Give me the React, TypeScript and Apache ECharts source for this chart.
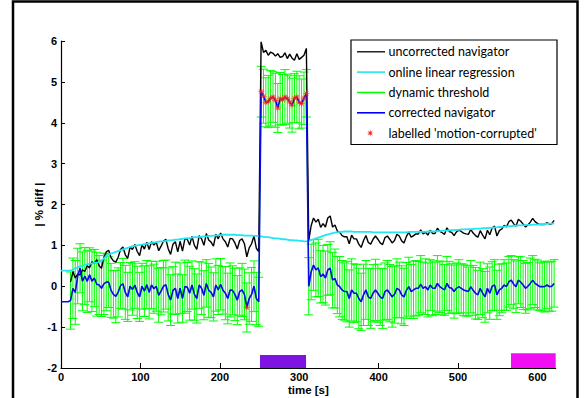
import React, { useEffect, useRef } from "react";
import * as echarts from "echarts";

// sample times (s), one sample every 3 s from 0 to 621
const sampleTimes: number[] = Array.from({ length: 208 }, (_, i) => i * 3);

// corrected navigator (blue)
const corrected: number[] = [
  -0.38, -0.38, -0.38, -0.38, -0.35, -0.05, -0.15, 0.25, 0.44, 0.12,
  0.25, 0.12, 0.28, 0.12, 0.2, 0.05, 0.03, -0.05, 0.06, 0.1,
  0.1, -0.1, -0.2, -0.25, -0.15, 0.02, 0.06, -0.15, -0.26, 0.0,
  -0.08, 0.03, -0.15, -0.26, 0.0, -0.12, 0.04, -0.15, 0.03, -0.06,
  0.0, -0.22, -0.12, 0.0, 0.04, -0.2, -0.34, -0.1, -0.05, -0.3,
  -0.05, -0.3, -0.01, -0.02, -0.17, 0.03, -0.2, -0.3, 0.03, -0.05,
  -0.22, 0.07, -0.1, -0.15, -0.26, 0.03, -0.09, 0.05, -0.1, -0.17,
  -0.3, -0.09, -0.1, -0.2, -0.34, -0.13, -0.09, -0.2, -0.52, -0.3,
  -0.2, 0.0, -0.3, -0.38, 4.76, 4.65, 4.5, 4.52, 4.6, 4.63,
  4.55, 4.36, 4.59, 4.56, 4.63, 4.59, 4.51, 4.43, 4.6, 4.63,
  4.5, 4.47, 4.6, 4.72, 0.0, 0.35, 0.52, 0.4, 0.45, 0.23,
  0.3, 0.2, 0.4, 0.44, 0.15, 0.19, 0.03, -0.01, -0.09, -0.13,
  -0.13, -0.3, -0.09, -0.17, -0.17, -0.3, -0.38, -0.21, -0.09, -0.26,
  -0.3, -0.17, -0.09, -0.17, -0.26, -0.3, -0.13, -0.09, -0.17, -0.26,
  -0.2, -0.05, -0.09, -0.21, -0.26, -0.1, -0.01, -0.13, -0.09, -0.05,
  -0.05, 0.05, -0.05, -0.01, -0.09, 0.03, -0.05, -0.05, 0.07, -0.01,
  -0.05, -0.09, 0.07, -0.03, -0.05, -0.13, -0.05, -0.01, -0.05, -0.09,
  -0.11, -0.13, -0.01, -0.1, -0.17, -0.21, -0.05, -0.17, -0.26, -0.05,
  -0.17, 0.0, 0.03, -0.21, -0.09, -0.05, 0.03, -0.01, 0.11, 0.15,
  0.05, -0.01, 0.15, 0.1, 0.03, -0.05, 0.0, 0.07, 0.15, 0.07,
  0.03, -0.01, -0.01, -0.01, 0.03, -0.01, 0.0, 0.07,
];

// online linear regression (cyan)
const regression: number[] = [
  0.38, 0.38, 0.38, 0.38, 0.38, 0.41, 0.44, 0.46, 0.48, 0.5,
  0.52, 0.54, 0.55, 0.56, 0.57, 0.58, 0.59, 0.62, 0.68, 0.74,
  0.78, 0.8, 0.82, 0.84, 0.86, 0.88, 0.9, 0.92, 0.94, 0.96,
  0.98, 0.99, 1.0, 1.01, 1.02, 1.03, 1.04, 1.05, 1.06, 1.07,
  1.08, 1.09, 1.1, 1.1, 1.11, 1.12, 1.12, 1.13, 1.14, 1.14,
  1.15, 1.16, 1.17, 1.17, 1.18, 1.19, 1.2, 1.2, 1.21, 1.21,
  1.22, 1.22, 1.23, 1.23, 1.24, 1.24, 1.25, 1.25, 1.26, 1.26,
  1.26, 1.26, 1.26, 1.26, 1.25, 1.25, 1.25, 1.24, 1.24, 1.24,
  1.24, 1.23, 1.23, 1.23, 1.22, 1.21, 1.2, 1.2, 1.19, 1.18,
  1.17, 1.17, 1.16, 1.15, 1.15, 1.14, 1.13, 1.13, 1.12, 1.12,
  1.11, 1.11, 1.1, 1.1, 1.11, 1.13, 1.15, 1.17, 1.19, 1.21,
  1.23, 1.25, 1.27, 1.28, 1.3, 1.31, 1.32, 1.33, 1.33, 1.34,
  1.34, 1.34, 1.34, 1.33, 1.33, 1.33, 1.33, 1.33, 1.33, 1.33,
  1.33, 1.32, 1.32, 1.32, 1.32, 1.32, 1.32, 1.32, 1.32, 1.32,
  1.32, 1.32, 1.32, 1.32, 1.32, 1.32, 1.33, 1.33, 1.33, 1.33,
  1.33, 1.33, 1.33, 1.33, 1.34, 1.34, 1.34, 1.34, 1.35, 1.35,
  1.36, 1.36, 1.36, 1.37, 1.37, 1.37, 1.38, 1.38, 1.39, 1.39,
  1.39, 1.4, 1.4, 1.4, 1.41, 1.41, 1.41, 1.42, 1.42, 1.42,
  1.43, 1.43, 1.44, 1.44, 1.45, 1.45, 1.46, 1.46, 1.47, 1.47,
  1.48, 1.48, 1.49, 1.49, 1.49, 1.5, 1.5, 1.5, 1.51, 1.51,
  1.51, 1.52, 1.52, 1.52, 1.53, 1.53, 1.53, 1.54,
];

// uncorrected navigator (black)
const uncorrected: (number | null)[] = [
  null, null, null, null, 0.1, 0.36, 0.2, 0.3, 0.28, 0.4,
  0.36, 0.5, 0.45, 0.6, 0.55, 0.65, 0.5, 0.44, 0.7, 0.84,
  0.88, 0.7, 0.62, 0.59, 0.71, 0.9, 0.96, 0.77, 0.68, 0.96,
  0.9, 1.02, 0.85, 0.75, 1.02, 0.91, 1.08, 0.9, 1.09, 1.01,
  1.08, 0.87, 0.98, 1.1, 1.15, 0.92, 0.78, 1.03, 1.09, 0.84,
  1.1, 0.86, 1.16, 1.15, 1.01, 1.22, 1.0, 0.9, 1.24, 1.16,
  1.0, 1.29, 1.13, 1.08, 0.98, 1.27, 1.16, 1.3, 1.16, 1.09,
  0.96, 1.17, 1.16, 1.06, 0.91, 1.12, 1.16, 1.04, 0.72, 0.94,
  1.04, 1.23, 0.93, 0.85, 5.98, 5.72, 5.77, 5.65, 5.73, 5.7,
  5.63, 5.69, 5.6, 5.62, 5.71, 5.57, 5.68, 5.58, 5.53, 5.69,
  5.55, 5.6, 5.65, 5.82, 1.11, 1.48, 1.67, 1.57, 1.64, 1.44,
  1.53, 1.45, 1.67, 1.72, 1.45, 1.5, 1.35, 1.32, 1.24, 1.21,
  1.21, 1.04, 1.25, 1.16, 1.16, 1.03, 0.95, 1.12, 1.24, 1.07,
  1.03, 1.15, 1.23, 1.15, 1.06, 1.02, 1.19, 1.23, 1.15, 1.06,
  1.12, 1.27, 1.23, 1.11, 1.06, 1.22, 1.32, 1.2, 1.24, 1.28,
  1.28, 1.38, 1.28, 1.32, 1.25, 1.37, 1.29, 1.29, 1.42, 1.34,
  1.31, 1.27, 1.43, 1.34, 1.32, 1.24, 1.33, 1.37, 1.34, 1.3,
  1.28, 1.27, 1.39, 1.3, 1.24, 1.2, 1.36, 1.25, 1.16, 1.37,
  1.26, 1.43, 1.47, 1.23, 1.36, 1.4, 1.49, 1.45, 1.58, 1.62,
  1.53, 1.47, 1.64, 1.59, 1.52, 1.45, 1.5, 1.57, 1.66, 1.58,
  1.54, 1.51, 1.51, 1.51, 1.56, 1.52, 1.53, 1.61,
];

// dynamic threshold (half-width of the green error bars)
const threshold: (number | null)[] = [
  null, null, null, null, 0.7, 0.74, 0.78, 0.68, 0.6, 0.72,
  0.7, 0.76, 0.66, 0.74, 0.7, 0.78, 0.72, 0.69, 0.75, 0.7,
  0.62, 0.66, 0.58, 0.64, 0.6, 0.56, 0.62, 0.66, 0.6, 0.58,
  0.63, 0.57, 0.64, 0.6, 0.56, 0.62, 0.59, 0.65, 0.58, 0.6,
  0.61, 0.66, 0.58, 0.63, 0.6, 0.65, 0.62, 0.58, 0.64, 0.6,
  0.62, 0.58, 0.65, 0.6, 0.66, 0.59, 0.63, 0.6, 0.57, 0.64,
  0.6, 0.58, 0.66, 0.62, 0.59, 0.64, 0.6, 0.63, 0.58, 0.65,
  0.62, 0.66, 0.6, 0.64, 0.6, 0.58, 0.65, 0.62, 0.6, 0.63,
  0.66, 0.62, 0.64, 0.6, 0.62, 0.66, 0.6, 0.64, 0.68, 0.62,
  0.66, 0.6, 0.64, 0.62, 0.67, 0.6, 0.64, 0.66, 0.6, 0.63,
  0.65, 0.6, 0.64, 0.58, 0.7, 0.68, 0.62, 0.66, 0.7, 0.64,
  0.7, 0.66, 0.62, 0.65, 0.68, 0.72, 0.7, 0.74, 0.72, 0.7,
  0.74, 0.7, 0.76, 0.72, 0.7, 0.74, 0.7, 0.75, 0.72, 0.7,
  0.73, 0.7, 0.75, 0.71, 0.7, 0.73, 0.7, 0.72, 0.7, 0.74,
  0.7, 0.72, 0.68, 0.71, 0.7, 0.68, 0.72, 0.66, 0.7, 0.68,
  0.66, 0.7, 0.64, 0.68, 0.66, 0.62, 0.67, 0.64, 0.68, 0.63,
  0.65, 0.62, 0.66, 0.64, 0.6, 0.65, 0.62, 0.66, 0.6, 0.63,
  0.62, 0.6, 0.64, 0.61, 0.63, 0.6, 0.64, 0.6, 0.62, 0.6,
  0.64, 0.6, 0.62, 0.6, 0.63, 0.6, 0.62, 0.58, 0.62, 0.6,
  0.6, 0.63, 0.58, 0.62, 0.6, 0.61, 0.58, 0.62, 0.6, 0.59,
  0.61, 0.58, 0.6, 0.62, 0.58, 0.6, 0.61, 0.58,
];

// samples labelled 'motion-corrupted' (times in s)
const labelledTimes: number[] = [
  234, 252, 255, 258, 261, 264, 267, 270, 273, 276, 279, 282, 285, 288, 291,
  294, 297, 300, 303, 306, 309,
];

// stimulus / event blocks at the bottom
const blockStart: number[] = [250.6, 566.7];
const blockEnd: number[] = [308.6, 623];
const blockTop: number[] = [-1.68, -1.64];
const blockColors: string[] = ["#7d14e2", "#f20ef2"];

const xTicks = { min: 0, max: 623, interval: 100 };
const yTicks = { min: -2, max: 6, interval: 1 };

const legendNames = [
  "uncorrected navigator",
  "online linear regression",
  "dynamic threshold",
  "corrected navigator",
  "labelled 'motion-corrupted'",
];

const STAR =
  "path://M10 5 L6.48 5.61 L8.54 8.54 L5.61 6.48 L5 10 L4.39 6.48 L1.46 8.54 L3.52 5.61 L0 5 L3.52 4.39 L1.46 1.46 L4.39 3.52 L5 0 L5.61 3.52 L8.54 1.46 L6.48 4.39 Z";

const starPts: number[][] = [
  [10, 5], [6.48, 5.61], [8.54, 8.54], [5.61, 6.48], [5, 10], [4.39, 6.48],
  [1.46, 8.54], [3.52, 5.61], [0, 5], [3.52, 4.39], [1.46, 1.46], [4.39, 3.52],
  [5, 0], [5.61, 3.52], [8.54, 1.46], [6.48, 4.39],
];

export default function App() {
  const ref = useRef<HTMLDivElement>(null);

  useEffect(() => {
    if (!ref.current) return;
    const chart = echarts.init(ref.current, undefined, { renderer: "svg" });

    const blackData = sampleTimes.map((t, i) => [t, uncorrected[i]]);
    const cyanData = sampleTimes.map((t, i) => [t, regression[i]]);
    const blueData = sampleTimes.map((t, i) => [t, corrected[i]]);
    const errData: number[][] = [];
    sampleTimes.forEach((t, i) => {
      const e = threshold[i];
      if (e !== null) errData.push([t, corrected[i], e]);
    });
    const greenCenter = errData.map((d) => [d[0], d[1]]);
    const redData = labelledTimes.map((t) => [t, corrected[sampleTimes.indexOf(t)]]);
    const blockData = blockStart.map((s, i) => [s, blockEnd[i], blockTop[i], i]);

    const legX = 351;
    const legY = 40;
    const rowY = [51.8, 72.1, 92.5, 112.8, 133.1];
    const legColors = ["#000000", "#22e6f0", "#00ff00", "#0000ff"];
    const legendGraphics: any[] = [
      {
        type: "rect",
        shape: { x: legX, y: legY, width: 206, height: 104.5 },
        style: { fill: "#ffffff", stroke: "#000000", lineWidth: 1.2 },
        z: 100,
      },
    ];
    legColors.forEach((c, i) => {
      legendGraphics.push({
        type: "line",
        shape: { x1: 357, y1: rowY[i], x2: 385, y2: rowY[i] },
        style: { stroke: c, lineWidth: i === 0 ? 1.3 : 1.6 },
        z: 101,
      });
    });
    legendGraphics.push({
      type: "polygon",
      shape: { points: starPts.map((p) => [366.5 + p[0] * 0.75, rowY[4] - 3.75 + p[1] * 0.75]) },
      style: { fill: "#ff2020" },
      z: 101,
    });
    legendNames.forEach((n, i) => {
      legendGraphics.push({
        type: "text",
        x: 388.5,
        y: rowY[i],
        style: {
          text: n,
          fontFamily: "Lato",
          fontSize: 12.5,
          fill: "#000000",
          verticalAlign: "middle",
          align: "left",
        },
        z: 101,
      });
    });

    const option: any = {
      animation: false,
      backgroundColor: "#ffffff",
      grid: {
        left: 61,
        top: 41,
        width: 494.7,
        height: 327,
        containLabel: false,
        outerBoundsMode: "none",
      },
      xAxis: {
        type: "value",
        min: xTicks.min,
        max: xTicks.max,
        interval: xTicks.interval,
        name: "time [s]",
        nameLocation: "middle",
        nameGap: 16,
        nameMoveOverlap: false,
        nameTextStyle: {
          fontFamily: "Liberation Sans",
          fontWeight: "bold",
          fontSize: 11.5,
          color: "#000",
        },
        axisLine: { onZero: false, lineStyle: { color: "#000", width: 1.2 } },
        axisTick: { inside: true, length: 5, lineStyle: { color: "#000" } },
        axisLabel: {
          margin: 3,
          fontFamily: "Liberation Sans",
          fontWeight: "bold",
          fontSize: 11,
          color: "#000",
          showMaxLabel: false,
        },
        splitLine: { show: false },
      },
      yAxis: {
        type: "value",
        min: yTicks.min,
        max: yTicks.max,
        interval: yTicks.interval,
        name: "| % diff |",
        nameLocation: "middle",
        nameGap: 16,
        nameMoveOverlap: false,
        nameTextStyle: {
          fontFamily: "Liberation Sans",
          fontWeight: "bold",
          fontSize: 11.5,
          color: "#000",
        },
        axisLine: { show: true, onZero: false, lineStyle: { color: "#000", width: 1.2 } },
        axisTick: { show: true, inside: true, length: 4, lineStyle: { color: "#000" } },
        axisLabel: {
          margin: 4,
          fontFamily: "Liberation Sans",
          fontWeight: "bold",
          fontSize: 11,
          color: "#000",
        },
        splitLine: { show: false },
      },
      graphic: [
        {
          type: "rect",
          shape: { x: 13, y: 1.5, width: 564.5, height: 500 },
          style: { fill: "none", stroke: "#000", lineWidth: 2.5 },
          z: 90,
          silent: true,
        },
        ...legendGraphics,
      ],
      series: [
        {
          name: "blocks",
          type: "custom",
          data: blockData,
          z: 1,
          renderItem: (params: any, api: any) => {
            const p0 = api.coord([api.value(0), api.value(2)]);
            const p1 = api.coord([api.value(1), -2]);
            return {
              type: "rect",
              shape: { x: p0[0], y: p0[1], width: p1[0] - p0[0], height: p1[1] - p0[1] },
              style: { fill: blockColors[api.value(3)] },
            };
          },
        },
        {
          name: "dynamic threshold",
          type: "custom",
          data: errData,
          z: 2,
          renderItem: (params: any, api: any) => {
            const x = api.value(0);
            const c = api.value(1);
            const e = api.value(2);
            const top = api.coord([x, c + e]);
            const bot = api.coord([x, c - e]);
            const hw = 4.5;
            const st = { stroke: "#00ff00", lineWidth: 1 };
            return {
              type: "group",
              children: [
                { type: "line", shape: { x1: top[0], y1: top[1], x2: bot[0], y2: bot[1] }, style: st },
                { type: "line", shape: { x1: top[0] - hw, y1: top[1], x2: top[0] + hw, y2: top[1] }, style: st },
                { type: "line", shape: { x1: bot[0] - hw, y1: bot[1], x2: bot[0] + hw, y2: bot[1] }, style: st },
              ],
            };
          },
        },
        {
          name: "dynamic threshold centre",
          type: "line",
          data: greenCenter,
          z: 3,
          symbol: "none",
          lineStyle: { color: "#00ff00", width: 1 },
        },
        {
          name: "uncorrected navigator",
          type: "line",
          data: blackData,
          z: 4,
          symbol: "none",
          connectNulls: false,
          lineStyle: { color: "#000000", width: 1.4 },
        },
        {
          name: "online linear regression",
          type: "line",
          data: cyanData,
          z: 5,
          symbol: "none",
          lineStyle: { color: "#22e6f0", width: 1.8 },
        },
        {
          name: "corrected navigator",
          type: "line",
          data: blueData,
          z: 6,
          symbol: "none",
          lineStyle: { color: "#0a0ae6", width: 1.6 },
        },
        {
          name: "labelled 'motion-corrupted'",
          type: "scatter",
          data: redData,
          z: 7,
          symbol: STAR,
          symbolSize: 8,
          itemStyle: { color: "#ff1a1a" },
        },
      ],
    };

    chart.setOption(option);
    return () => chart.dispose();
  }, []);

  return (
    <div
      ref={ref}
      style={{ position: "fixed", left: 0, top: 0, width: 584, height: 398, background: "#fff" }}
    />
  );
}
